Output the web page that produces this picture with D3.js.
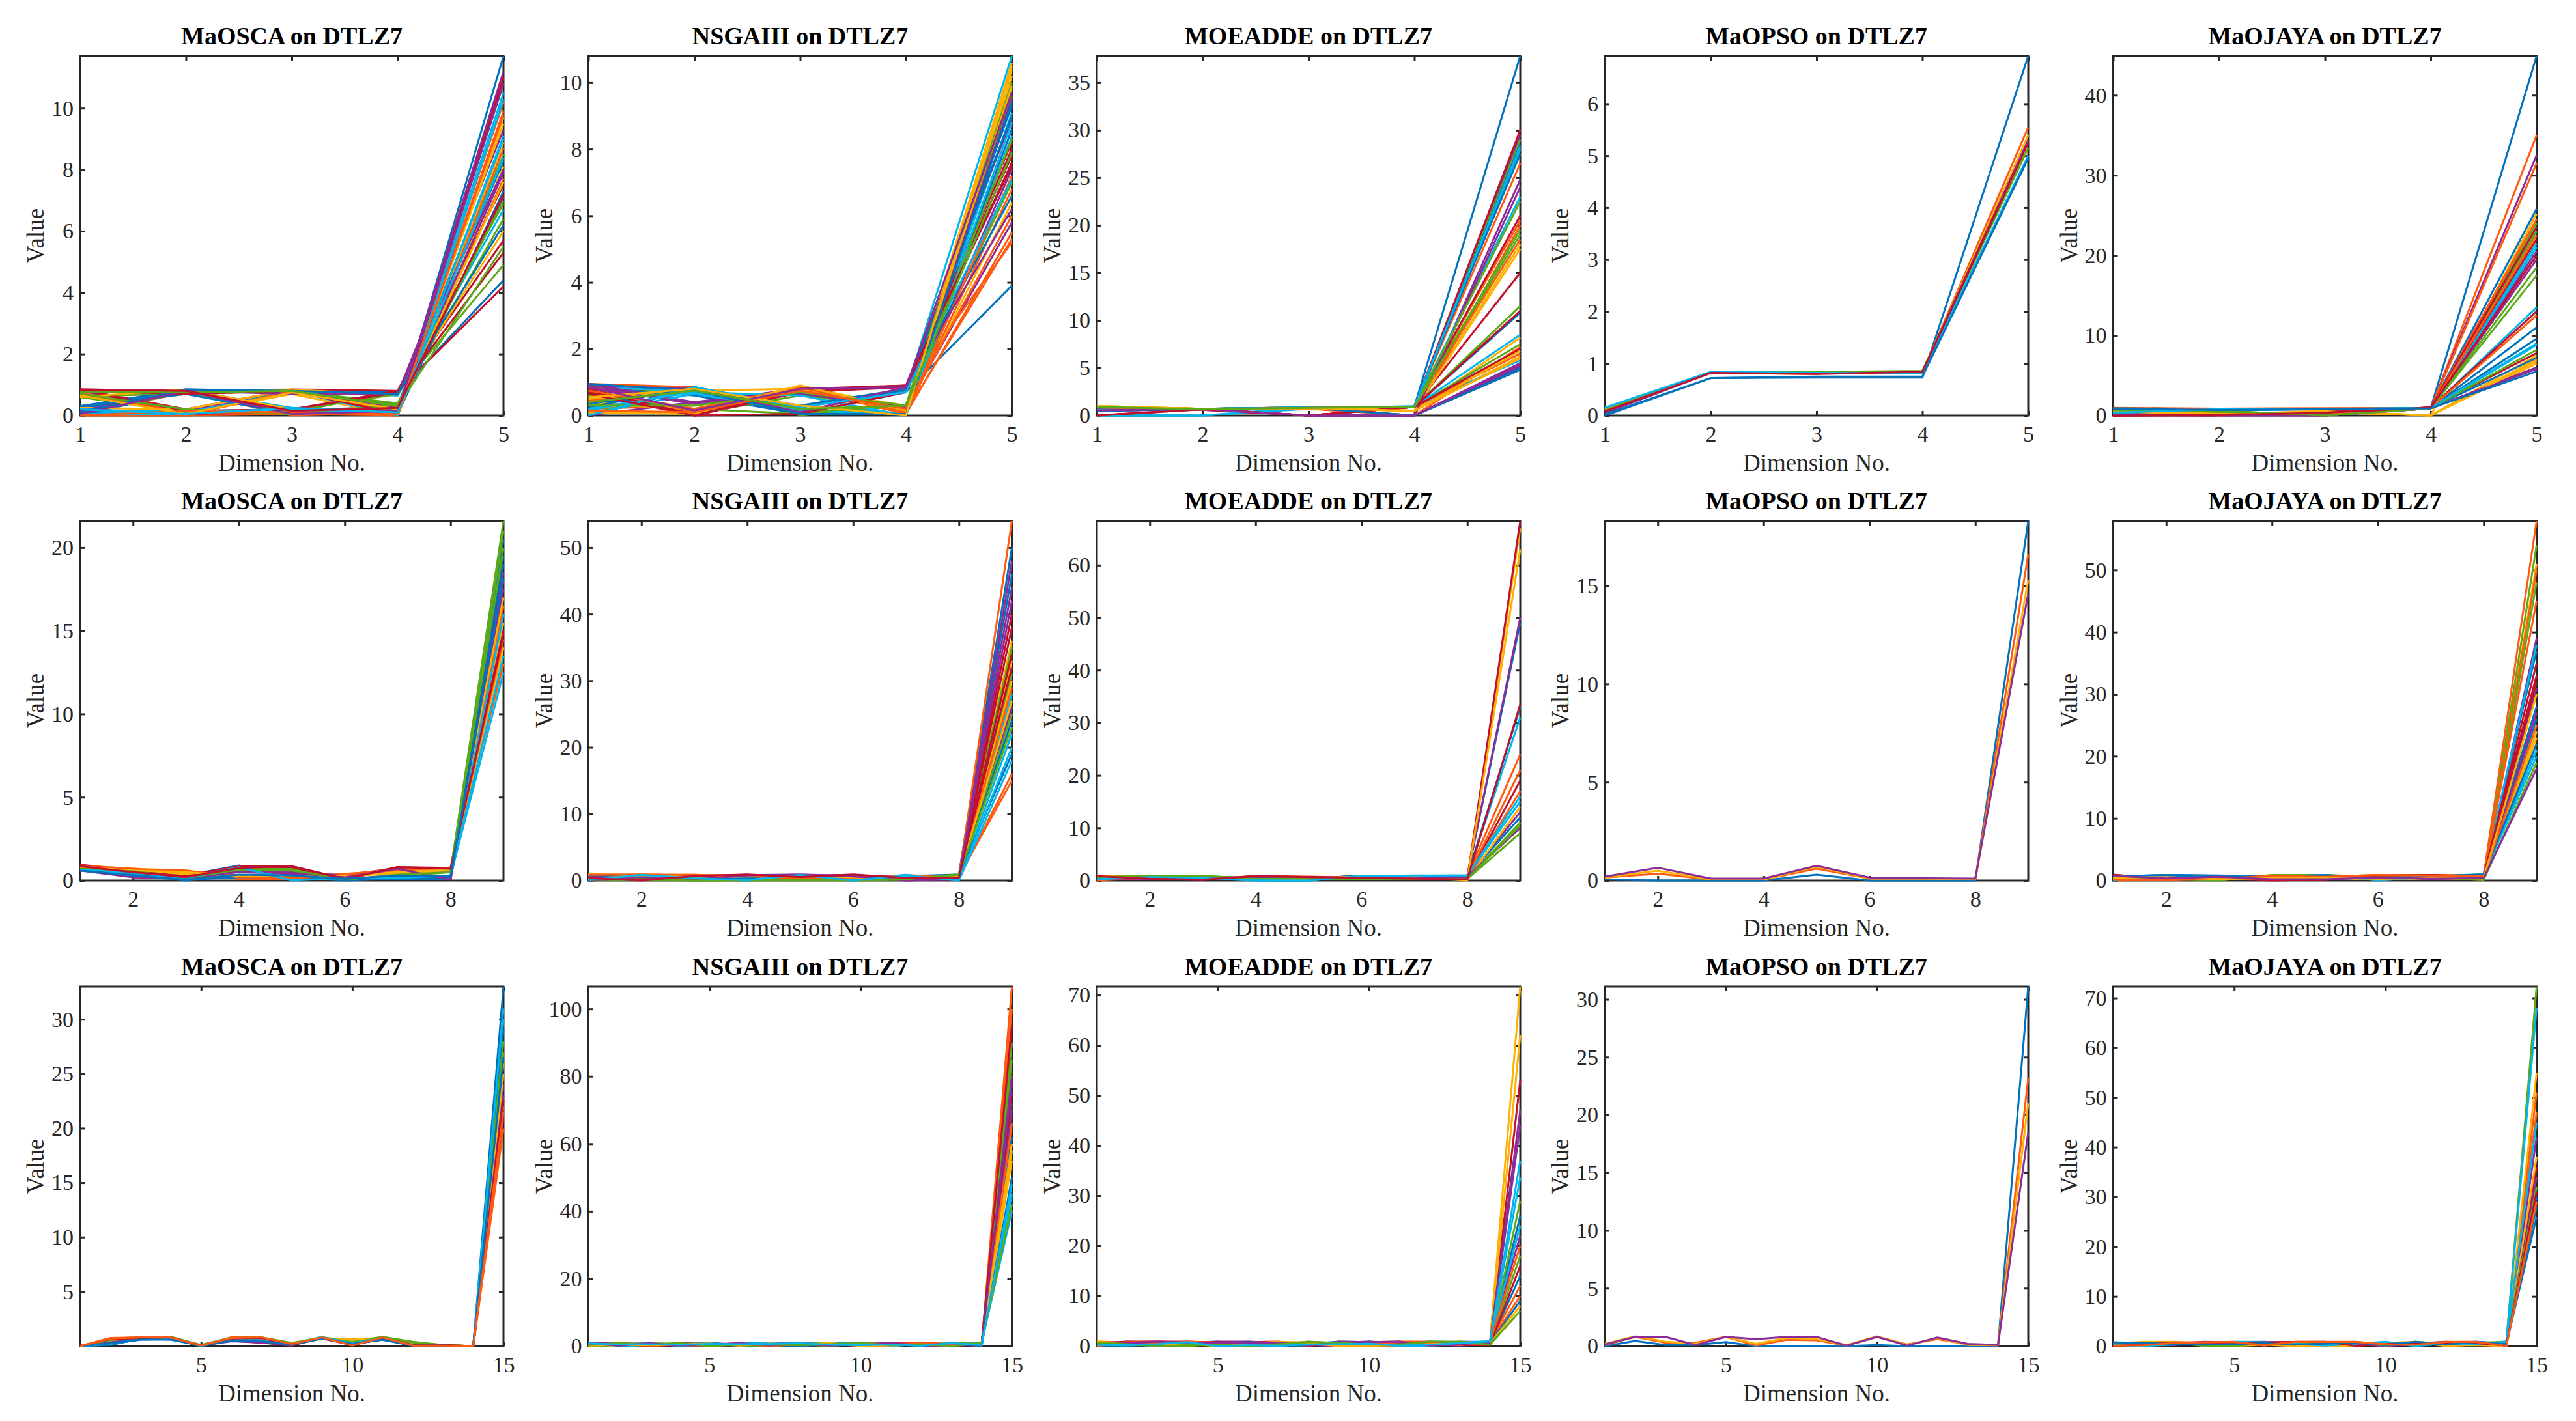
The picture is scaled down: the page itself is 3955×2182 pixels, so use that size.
<!DOCTYPE html>
<html>
<head>
<meta charset="utf-8">
<script src="https://d3js.org/d3.v7.min.js"></script>
<style>
  body { margin: 0; background: #fff; }
  svg text { font-family: "Liberation Serif", "Times New Roman", serif; }
</style>
</head>
<body>
<svg id="chart" width="3955" height="2182"></svg>
<script>
// MATLAB-like colour order, line i gets colour i % 7
const colorOrder = ['#0072BD', '#FF5A0F', '#FFB000', '#8B2C98', '#5BAA18', '#00B6EC', '#C1102E'];

const titles = ['MaOSCA on DTLZ7', 'NSGAIII on DTLZ7', 'MOEADDE on DTLZ7', 'MaOPSO on DTLZ7', 'MaOJAYA on DTLZ7'];

// x tick values for the 5-, 9- and 15-objective rows
const xTicksRow = [[1, 2, 3, 4, 5], [2, 4, 6, 8], [5, 10, 15]];

// y tick values, one list per panel (row by row)
const yTicks = [
  [[0, 2, 4, 6, 8, 10], [0, 2, 4, 6, 8, 10], [0, 5, 10, 15, 20, 25, 30, 35], [0, 1, 2, 3, 4, 5, 6], [0, 10, 20, 30, 40]],
  [[0, 5, 10, 15, 20], [0, 10, 20, 30, 40, 50], [0, 10, 20, 30, 40, 50, 60], [0, 5, 10, 15], [0, 10, 20, 30, 40, 50]],
  [[5, 10, 15, 20, 25, 30], [0, 20, 40, 60, 80, 100], [0, 10, 20, 30, 40, 50, 60, 70], [0, 5, 10, 15, 20, 25, 30], [0, 10, 20, 30, 40, 50, 60, 70]]
];

// ---- 5 objectives ----
const maosca5 = [
  [.2,.85,.2,.05,11.7],[.8,.75,.05,0,11.0],[.3,.7,.8,.1,9.7],[.05,.1,.75,.2,11.2],[.6,.1,.8,.35,8.5],
  [.15,.8,.25,.1,10.5],[.85,.2,.85,.8,7.5],[.25,.75,.15,.3,8.9],[0,0,.05,.05,9.9],[.7,.05,.7,0,8.1],
  [.8,.15,.75,.7,9.3],[.65,.7,.8,.4,6.4],[.1,.15,.2,.05,9.1],[.85,.05,.1,.8,5.7],[.3,.85,.8,.75,4.4],
  [.05,.75,0,.1,10.2],[.75,.8,.85,.65,6.0],[.2,.05,.8,.25,7.9],[.6,.75,.1,.8,4.9],[.15,.1,.75,.65,6.7],
  [.85,.8,.2,.8,4.2],[0,.8,.8,.05,7.3],[.7,.1,.1,0,8.7],[.25,.2,.85,.15,9.5],[.8,.8,.75,.3,7.1],
  [.1,.75,.15,.7,6.9],[.05,.05,.8,0,10.3],[.85,.15,.2,.75,5.3],[.3,.7,.05,.2,8.3],[.75,0,.8,.1,7.7],
  [.6,.85,.2,.05,8.9],[.15,.8,.7,.7,8.0],[.7,.2,.05,.35,7.0],[.2,.1,.2,.1,9.0],[.8,.7,.8,.05,11.0],
  [.1,.85,.8,.7,6.2],[0,.15,.1,.05,9.8],[.65,.05,.75,.2,7.6],[.05,.8,.05,.15,10.8],[.75,.75,.8,.3,5.5],
  [.2,.05,.25,.1,8.4],[.85,.8,.15,.25,7.2]
];
const nsga5 = [
  [.3,.85,.25,.7,3.9],[.95,.85,.1,.05,5.5],[.4,.15,.8,.3,10.6],[0,.4,.7,.25,5.8],[.7,.8,0,.3,9.8],
  [.9,.7,.25,.75,10.8],[.75,0,.75,.9,8.2],[.85,.6,.05,.7,9.3],[.2,.3,.75,.1,5.3],[.6,.1,.9,.2,10.4],
  [.95,.4,.8,.2,7.4],[.1,.05,.6,.25,9.6],[.15,.75,.3,.05,9.1],[.8,0,.7,.85,7.8],[0,.8,.2,0,8.6],
  [.45,.8,.1,.8,5.2],[.35,.2,.85,.1,6.4],[.9,.35,.75,.9,8.9],[.6,.2,.05,.3,7.0],[.05,.65,.15,.05,8.4],
  [.7,.05,.7,.9,8.0],[.25,.85,.25,.75,9.0],[.9,.1,.8,.05,6.8],[.5,.75,.8,.1,10.2],[.85,.35,.65,.25,9.5],
  [.05,.8,.1,.3,10.0],[.2,.7,.6,0,8.8],[.8,0,.05,.7,7.6],[.35,.8,.3,.8,6.6],[.75,.2,.85,.1,7.2],
  [.1,.05,.9,.15,9.9],[.9,.8,.1,.85,6.2],[.3,.3,.7,.3,8.3],[0,.85,.25,.7,7.1],[.65,0,.8,.9,7.5],
  [.95,.75,.05,.05,9.4],[.15,.1,.75,.2,6.0],[.55,.8,.3,0,10.5],[.85,.15,.8,.85,9.7],[.4,.75,.2,.3,7.9]
];
const moeadde5 = [
  [.6,.7,.8,.95,37.8],[.9,.7,.75,.9,26.5],[1.0,.7,.85,.5,18.0],[.5,.65,.8,.95,29.5],[.85,.7,.75,.9,29.0],
  [0,0,.7,1.0,28.0],[0,.65,0,.9,30.0],[.6,.65,.8,.9,10.8],[.8,.7,.85,.95,20.5],[.95,.7,.7,.5,8.2],
  [.55,.6,0,0,24.8],[.9,.7,.8,.9,11.5],[.6,.7,.85,.95,23.0],[.8,.6,0,.9,21.0],[.5,.7,.8,.95,28.5],
  [.85,.65,.75,0,20.0],[1.0,.7,.8,.5,6.2],[.6,.65,0,0,5.5],[.9,.7,.8,.9,19.0],[0,0,.85,.95,5.8],
  [0,.7,0,.9,15.0],[.6,.7,.8,0,5.0],[.8,.7,.8,.9,6.5],[.95,.65,.75,.5,17.5],[.5,.7,.8,0,24.0],
  [.85,.7,.85,.9,7.5],[.6,.65,.8,.95,8.5],[.8,.7,0,.9,11.0],[.55,.7,.85,.95,27.5],[.9,.6,.7,0,7.2],
  [1.0,.7,.8,.5,6.0],[.6,.65,0,0,5.2],[.85,.7,.8,.9,22.5],[.6,.7,.85,.95,28.3],[0,.65,0,.9,7.0],
  [.5,.7,.8,0,4.8],[.85,.65,.8,.9,18.5],[.95,.7,.75,.5,6.8],[.55,.7,0,0,5.3],[.9,.65,.8,.9,19.5]
];
const maopso5 = [
  [0,.72,.73,.73,6.92],[.1,.82,.8,.83,5.55],[.12,.83,.82,.84,5.4],[.05,.82,.83,.85,5.3],
  [.1,.83,.84,.86,5.15],[.15,.84,.82,.82,5.0],[.08,.82,.8,.84,5.25],[.02,.72,.75,.75,4.95]
];
const maojaya5 = [
  [.8,.7,.75,.95,44.9],[.9,.8,.85,.9,35.0],[.5,.1,.6,0,25.2],[.3,.2,0,.95,32.5],[.6,.3,0,.9,24.0],
  [.2,.7,.8,.9,21.5],[0,.1,.3,1.0,22.0],[.9,.8,.8,.95,25.8],[.95,.85,.9,.9,31.5],[.7,.2,.4,0,7.5],
  [.1,0,.05,.9,19.5],[.7,.6,0,.9,18.5],[.3,.8,.8,.95,13.5],[0,0,.4,1.0,13.0],[.9,.7,.8,.9,11.0],
  [.8,.8,.85,.95,24.5],[.6,0,.5,0,6.5],[.2,.1,0,.9,20.5],[.65,.5,0,.9,17.5],[.4,.85,.8,.95,8.8],
  [.05,.05,.45,1.0,7.8],[.85,.75,.8,.9,9.6],[.9,.85,.9,.95,12.5],[.5,.1,.5,0,7.0],[.2,0,.05,.9,6.0],
  [.7,.55,0,.95,23.0],[.3,.8,.85,.9,21.0],[0,.1,.4,1.0,23.5],[.9,.8,.8,.95,7.2],[.85,.8,.85,.9,22.5],
  [.6,.05,.45,0,6.8],[.15,.05,0,.9,5.8],[.65,.6,0,.9,8.2],[.35,.8,.8,.95,9.0],[0,.05,.35,1.0,20.0],
  [.85,.7,.8,.9,5.5]
];

// ---- 9 objectives ----
const maosca9 = [
  [.9,.6,.3,.9,.3,.1,.2,.3,20.5],[.8,.5,.55,.3,.2,.4,.6,.75,13.0],[.85,.7,.6,.2,.3,.3,.5,.7,14.0],
  [.7,.2,.1,.6,.5,.3,.75,.05,18.0],[.75,.65,.2,.7,.7,.05,.3,.55,21.6],[.6,.4,.2,.85,.05,.2,.1,.3,12.5],
  [.95,.6,.3,.85,.85,.1,.8,.75,16.0],[.8,.3,0,.3,.2,0,.1,.1,19.5],[.9,.7,.5,.1,.1,.35,.7,.7,14.5],
  [.7,.5,.4,.15,.2,.3,.4,.6,15.5],[.65,.25,.15,.5,.4,.25,.7,.1,17.5],[.8,.6,.2,.6,.6,.1,.25,.5,20.0],
  [.7,.5,.1,.75,.1,.1,.2,.2,13.5],[.9,.55,.25,.8,.8,.05,.75,.7,15.0],[.75,.35,.05,.2,.15,.05,.15,.15,19.0],
  [.85,.65,.6,.2,.15,.3,.65,.75,16.5],[.8,.6,.5,.25,.25,.25,.45,.65,17.0],[.6,.2,.1,.55,.45,.2,.7,.05,18.5],
  [.7,.55,.15,.65,.65,.05,.35,.5,21.0],[.65,.45,.15,.8,0,.15,.15,.3,16.0],[.85,.5,.2,.75,.85,.1,.8,.7,14.8],
  [.6,.3,.05,.35,.3,.1,.3,.25,18.2]
];
const nsga9 = [
  [.5,.6,.4,.7,.7,.2,.6,.9,50],[.9,.8,.85,.6,.7,.8,.5,.6,15],[.3,.9,.6,.5,.8,.6,.4,.7,36],
  [.6,.3,.1,.8,.9,.7,0,.2,42],[0,.1,0,0,.05,0,.1,.8,31],[0,.8,.4,0,.8,0,.8,0,22],
  [.4,.05,.6,.8,.6,.85,.3,.4,40],[.8,.7,.5,.3,.5,.4,.6,.7,46],[.7,.85,.8,.7,.2,.3,.8,.5,54],
  [.9,.6,.3,.2,.1,.5,.6,.3,33],[.2,.4,.8,.6,.7,.8,.05,.1,26],[.6,.2,.05,.1,0,.3,.4,.85,35],
  [.1,.7,.3,.4,.8,.1,.7,.2,28],[.5,.1,.7,.85,.5,.7,.4,.5,38],[.3,.8,.6,.2,.6,.5,.7,.8,19],
  [.8,.5,.7,.5,.3,.1,.6,.4,16],[.9,.85,.4,.3,.2,.6,.5,.6,30],[0,.3,.75,.7,.8,.75,0,.3,44],
  [.7,.1,.1,.2,.1,.2,.3,.9,25],[.2,.75,.4,.1,.7,.05,.85,.1,20],[.45,0,.6,.8,.4,.8,.35,.6,32],
  [.6,.65,.5,.4,.65,.3,.6,.7,24],[.85,.9,.85,.65,.3,.4,.7,.5,29],[.25,.8,.5,.6,.75,.5,.3,.75,27],
  [.55,.4,.2,.75,.85,.6,.1,.2,48],[.1,.2,0,.1,.1,.1,.2,.85,23],[.05,.85,.35,.05,.85,0,.75,0,18],
  [.35,.05,.65,.9,.55,.9,.4,.45,34]
];
const moeadde9 = [
  [.5,.7,.6,.4,.5,.8,.7,.9,49],[0,.5,.6,.3,.4,.9,.8,.9,24],[.9,.8,.7,.2,.3,.7,.6,0,67],
  [.3,.6,.5,.6,.5,.8,.7,.8,50],[.6,.9,.8,.5,.6,.7,.5,.3,9],[.2,.6,.4,0,0,.9,.9,1.0,31],
  [.8,.3,.1,.9,.6,.5,.3,.2,68.4],[.4,.8,.7,.5,.4,.9,.8,.9,33],[.1,.5,.3,.8,.7,.6,.4,.5,21],
  [.85,.9,.7,.3,.3,.8,.7,.1,63],[.5,.4,.6,.6,.5,.4,.5,.6,13],[.7,.8,.8,.4,.5,.3,.2,.4,11],
  [.3,.7,.5,0,0,.8,.9,.9,15],[.9,.4,.2,.8,.7,.6,.4,.3,19],[.2,.6,.5,.3,.4,.9,.8,.8,12],
  [.05,.5,.4,.7,.6,.7,.5,.6,17],[.95,.85,.6,.2,.2,.8,.7,.2,14],[.4,.3,.5,.5,.4,.5,.4,.7,10],
  [.65,.9,.9,.3,.4,.2,.3,.3,10.5],[.25,.65,.45,.05,0,.85,.95,.95,16],[.85,.35,.15,.85,.65,.5,.35,.25,33.5]
];
const maopso9 = [
  [.05,0,0,0,.3,0,0,0,18.3],[.15,.35,.05,.05,.6,.1,.1,.05,16.6],
  [.15,.5,.05,.05,.7,.1,.1,.05,15.3],[.2,.65,.1,.1,.75,.15,.12,.1,14.6]
];
const maojaya9 = [
  [.6,.9,.8,.6,.9,.3,.7,1.0,37],[0,.1,.3,.7,.6,.9,.8,.7,57.9],[.4,.6,.2,.4,.5,.2,.4,.3,51],
  [.8,.4,.6,.2,.2,.5,.3,.4,39],[.5,.2,0,.9,.8,.7,.6,.1,54],[0,.85,.1,.75,.9,0,.5,1.0,38],
  [.9,.3,.4,.05,.1,.8,.9,.6,33],[.7,.8,.7,.5,.85,.4,.6,.9,28],[.1,.05,.2,.8,.7,.85,.9,.8,50],
  [.3,.7,.3,.3,.6,.1,.3,.2,23],[.85,.5,.5,.1,.3,.6,.2,.5,31],[.6,.3,.05,.85,.9,.6,.5,.05,48],
  [.1,.8,.2,.7,.8,.1,.45,.95,21],[.95,.2,.35,0,.15,.75,.85,.55,32],[.65,.9,.75,.55,.8,.35,.65,.95,26],
  [.05,.1,.25,.75,.65,.8,.85,.75,45],[.35,.65,.25,.35,.55,.15,.35,.25,24],[.8,.45,.55,.15,.25,.55,.25,.45,27],
  [.55,.25,0,.8,.85,.65,.55,.1,19],[.05,.85,.15,.7,.85,.05,.5,.9,20],[.9,.25,.45,.05,.1,.8,.9,.6,35],
  [.7,.85,.7,.6,.9,.3,.7,.95,22],[.15,.05,.3,.75,.6,.9,.8,.7,25],[.45,.55,.2,.4,.5,.25,.4,.35,30],
  [.75,.35,.6,.2,.2,.5,.3,.4,18]
];

// ---- 15 objectives ----
const maosca15 = [
  [0,.2,.6,.65,.05,.6,.4,.1,.7,.3,.7,.1,.05,0,33],[0,.7,.75,.8,0,.7,.75,.15,.8,.1,.75,.05,.05,0,22],
  [0,.6,.8,.75,.05,.75,.7,.2,.7,.65,.75,.2,.1,0,26],[0,.3,.7,.6,.1,.5,.3,.1,.8,.2,.6,.1,.05,0,24],
  [0,.5,.8,.85,.1,.8,.8,.25,.8,.4,.85,.4,.1,0,27],[0,.15,.65,.7,.05,.7,.6,.2,.85,.2,.8,.15,.05,0,30],
  [0,.6,.8,.8,.05,.65,.7,.15,.7,.1,.7,.1,.1,0,21],[0,.1,.7,.7,0,.55,.5,.1,.75,.25,.6,.05,.05,0,29],
  [0,.75,.8,.8,.05,.8,.8,.2,.8,.15,.8,.05,.05,0,20],[0,.5,.7,.75,.1,.7,.6,.25,.75,.6,.7,.15,.1,0,25],
  [0,.35,.75,.65,.05,.45,.35,.05,.8,.15,.65,.1,.05,0,23],[0,.55,.8,.8,.1,.75,.8,.3,.8,.35,.8,.35,.1,0,28],
  [0,.2,.7,.75,0,.65,.55,.15,.8,.25,.75,.1,.05,0,31],[0,.65,.75,.8,.05,.7,.75,.1,.75,.1,.75,.1,.1,0,22.5],
  [0,.25,.6,.6,.05,.5,.45,.15,.7,.2,.6,.05,.05,0,26.5],[0,.7,.8,.8,.05,.75,.8,.2,.8,.05,.8,.05,.05,0,21.5]
];
const nsga15 = [
  [.8,.2,.6,.1,.9,.3,.7,0,.5,.8,.2,.6,.4,.9,72],[.6,.7,0,.5,.8,.6,0,.7,.7,.2,0,.8,.8,0,106.6],
  [.2,.9,.4,.8,.3,.9,.6,.5,.1,.9,.6,.2,.1,.8,55],[.9,.4,.8,.3,0,.5,.8,.9,.6,0,.4,.9,.3,.2,70],
  [0,.6,.9,.7,.6,.1,.3,.8,.9,.5,.8,0,.7,.6,85],[.4,0,.2,.9,.5,.7,.9,.3,.8,.9,.1,.5,0,.9,40],
  [.1,.8,.7,0,.2,.8,.5,.6,.3,.6,.9,.9,.6,.5,75],[.7,.3,.5,.6,.9,0,.4,.7,.2,.4,.7,.3,.9,.7,62],
  [.5,.5,.1,.4,.4,.9,.8,.1,.6,.7,.3,.7,.5,.3,100],[.3,.1,.9,.2,.8,.4,.2,.4,.9,.1,.5,.6,.8,.1,58],
  [.85,.9,.3,.8,.1,.6,.7,.9,.4,.3,.9,.1,.2,.4,80],[.05,.4,.6,.5,.7,.2,.1,.5,0,.8,.6,.4,.9,.8,90],
  [.6,.6,.8,.1,.3,.8,.9,.2,.7,.9,0,.7,.4,.9,45],[.2,.7,0,.9,.6,.3,.6,.8,.5,.2,.8,.85,.1,.6,95],
  [.9,.1,.7,.7,.9,.5,.3,0,.8,.6,.4,.2,.7,0,50],[.45,.85,.5,.3,.2,.7,0,.6,.3,.5,.7,.9,.6,.4,66],
  [.1,.5,.2,.6,.8,.1,.8,.4,.9,0,.2,.5,.3,.7,60],[.7,.2,.9,.2,.5,.9,.2,.8,.1,.7,.85,.3,.8,.2,78],
  [.3,.9,.4,.9,0,.4,.5,.3,.6,.9,.3,.6,0,.9,42],[.8,.5,.6,.4,.7,.6,.7,.9,.4,.3,.5,.1,.9,.3,48]
];
const moeadde15 = [
  [.5,.8,.6,.7,.9,.4,.6,.3,.8,.7,.5,.2,.9,.8,26],[0,.7,.8,.6,.5,.9,.7,.5,.6,.9,.7,.6,.5,.7,10],
  [1.0,.6,.5,.3,.2,.4,.3,.9,.1,0,.4,.8,.6,.9,71.7],[.3,.9,.7,.8,.8,.3,.5,.2,0,.8,.9,.5,.8,.6,44],
  [.6,.5,.2,.1,.6,.6,.8,.7,.3,.4,.6,.1,.3,.5,29],[.2,.3,0,.5,.1,0,.2,.1,.5,.6,.2,0,.7,1.0,33.6],
  [.7,.8,.9,.9,.7,.8,.9,0,.7,.5,.8,.4,.2,.3,53],[.4,.6,.5,.2,.3,.5,.1,.4,.9,.8,.3,.7,.6,.7,14],
  [.1,.9,.6,.8,.6,.7,.4,.6,.2,.3,.9,.9,.4,.8,12],[.9,.2,.3,.4,0,.2,.7,.8,.4,.1,.1,.6,.9,.5,62],
  [.5,.7,.8,.6,.9,.9,.6,.3,.7,.9,.6,.3,.1,.9,22],[.8,.4,.1,0,.4,.1,.3,.9,.6,.2,.5,.8,.7,.4,18],
  [.15,.1,.3,.6,.2,.3,0,.5,.3,.7,0,.2,.5,.9,24],[.6,.9,.9,.7,.8,.6,.8,.2,.8,.6,.7,.5,.3,.2,16],
  [.35,.5,.4,.3,.5,.8,.5,.7,.1,.9,.4,.9,.8,.6,9],[.05,.8,.7,.9,.7,.4,.2,.4,.5,.4,.8,.7,.2,.8,20],
  [.95,.3,.2,.5,.1,.5,.9,.6,0,.2,.2,.4,.6,.5,8],[.4,.6,.9,.7,.6,.7,.7,.1,.9,.8,.9,.1,.4,.7,47],
  [.7,.4,0,.2,.3,0,.4,.8,.7,.3,.3,.9,.9,.3,7],[.25,.2,.4,.8,0,.2,.1,.3,.4,.5,.1,.3,.6,.95,37]
];
const maopso15 = [
  [0,.45,.1,.1,.35,0,0,0,0,.1,0,0,0,0,31.1],
  [.1,.8,.3,.3,.8,.05,.55,.5,.05,.8,.15,.6,.15,.05,23.2],
  [.2,.85,.4,.2,.8,.2,.7,.6,.1,.85,.1,.7,.1,.1,21],
  [.15,.8,.8,.1,.8,.6,.8,.8,.05,.8,.05,.75,.2,.1,18.5]
];
const maojaya15 = [
  [.3,.8,.6,.7,.5,.9,.4,.2,.6,0,.7,.8,.9,.4,30],[0,.1,.6,.8,.9,.2,.9,.9,.9,.4,.2,.8,.8,.1,51],
  [.5,.9,.9,.6,0,.3,0,.1,.2,.6,.9,0,.3,0,55],[.6,.5,.3,.9,.8,.7,.8,.7,.3,.1,.5,.9,.7,0,42],
  [.4,.6,.8,0,.1,.6,.5,.3,.9,.2,.9,.4,.6,.8,72.3],[.2,0,.4,.5,.9,.9,.6,0,.4,.8,0,.6,.2,1.0,68],
  [.1,.3,.7,.8,.6,.8,.8,.8,0,.5,.6,.7,.5,.2,36],[.7,.7,.5,.4,.3,.5,.2,.6,.8,.3,.8,.2,.9,.5,28],
  [.05,.2,.7,.7,.8,.1,.9,.8,.8,.3,.3,.9,.9,.1,47],[.55,.8,.85,.5,.1,.4,.1,0,.1,.7,.8,.1,.2,0,38],
  [.65,.4,.2,.85,.7,.6,.7,.6,.4,0,.4,.85,.8,.1,34],[.35,.7,.75,.1,0,.7,.6,.4,.85,.1,.85,.5,.7,.9,32],
  [.15,.05,.3,.6,.8,.85,.5,.1,.5,.9,.1,.5,.3,.9,45],[0,.35,.75,.75,.7,.8,.85,.9,.05,.4,.7,.75,.6,.1,31],
  [.8,.6,.45,.3,.4,.6,.3,.5,.7,.2,.9,.3,.85,.4,26],[.1,.15,.65,.8,.85,.15,.85,.85,.85,.35,.25,.85,.85,.05,29]
];

const rows = [
  [maosca5, nsga5, moeadde5, maopso5, maojaya5],
  [maosca9, nsga9, moeadde9, maopso9, maojaya9],
  [maosca15, nsga15, moeadde15, maopso15, maojaya15]
];

const svg = d3.select('#chart');
const plotW = 650, plotH = 552;
const lefts = [123, 903.5, 1684, 2464, 3244.5];
const tops = [86, 800, 1515];
const ink = '#262626';

rows.forEach((row, r) => {
  row.forEach((lines, c) => {
    const L = lefts[c], T = tops[r];
    const nDim = lines[0].length;
    const x = d3.scaleLinear().domain([1, nDim]).range([L, L + plotW]);
    const y = d3.scaleLinear().domain([0, d3.max(lines, d => d3.max(d))]).range([T + plotH, T]);

    const g = svg.append('g');

    const styleAxis = a => {
      a.select('.domain').remove();
      a.selectAll('.tick line').attr('stroke', ink).attr('stroke-width', 3);
      a.selectAll('.tick text').attr('fill', ink).style('font-size', '34px')
        .style('font-family', '"Liberation Serif", "Times New Roman", serif');
    };

    g.append('g').attr('transform', `translate(0,${T + plotH})`)
      .call(d3.axisBottom(x).tickValues(xTicksRow[r]).tickSize(-7).tickPadding(16).tickFormat(d3.format('d')))
      .call(styleAxis);
    g.append('g').attr('transform', `translate(0,${T})`)
      .call(d3.axisTop(x).tickValues(xTicksRow[r]).tickSize(-7).tickFormat(''))
      .call(styleAxis);
    g.append('g').attr('transform', `translate(${L},0)`)
      .call(d3.axisLeft(y).tickValues(yTicks[r][c]).tickSize(-7).tickPadding(10).tickFormat(d3.format('d')))
      .call(styleAxis);
    g.append('g').attr('transform', `translate(${L + plotW},0)`)
      .call(d3.axisRight(y).tickValues(yTicks[r][c]).tickSize(-7).tickFormat(''))
      .call(styleAxis);

    g.append('rect')
      .attr('x', L).attr('y', T).attr('width', plotW).attr('height', plotH)
      .attr('fill', 'none').attr('stroke', ink).attr('stroke-width', 3);

    const line = d3.line().x((d, i) => x(i + 1)).y(d => y(d));
    g.append('g').selectAll('path')
      .data(lines)
      .join('path')
      .attr('d', line)
      .attr('fill', 'none')
      .attr('stroke', (d, i) => colorOrder[i % colorOrder.length])
      .attr('stroke-width', 3)
      .attr('stroke-linejoin', 'round');

    g.append('text')
      .attr('x', L + plotW / 2).attr('y', T - 18)
      .attr('text-anchor', 'middle')
      .style('font-size', '38px').style('font-weight', 'bold')
      .attr('fill', '#000')
      .text(titles[c]);

    g.append('text')
      .attr('x', L + plotW / 2).attr('y', T + plotH + 85)
      .attr('text-anchor', 'middle')
      .style('font-size', '37px')
      .attr('fill', ink)
      .text('Dimension No.');

    g.append('text')
      .attr('transform', `translate(${L - 56},${T + plotH / 2}) rotate(-90)`)
      .attr('text-anchor', 'middle')
      .style('font-size', '37px')
      .attr('fill', ink)
      .text('Value');
  });
});
</script>
</body>
</html>
